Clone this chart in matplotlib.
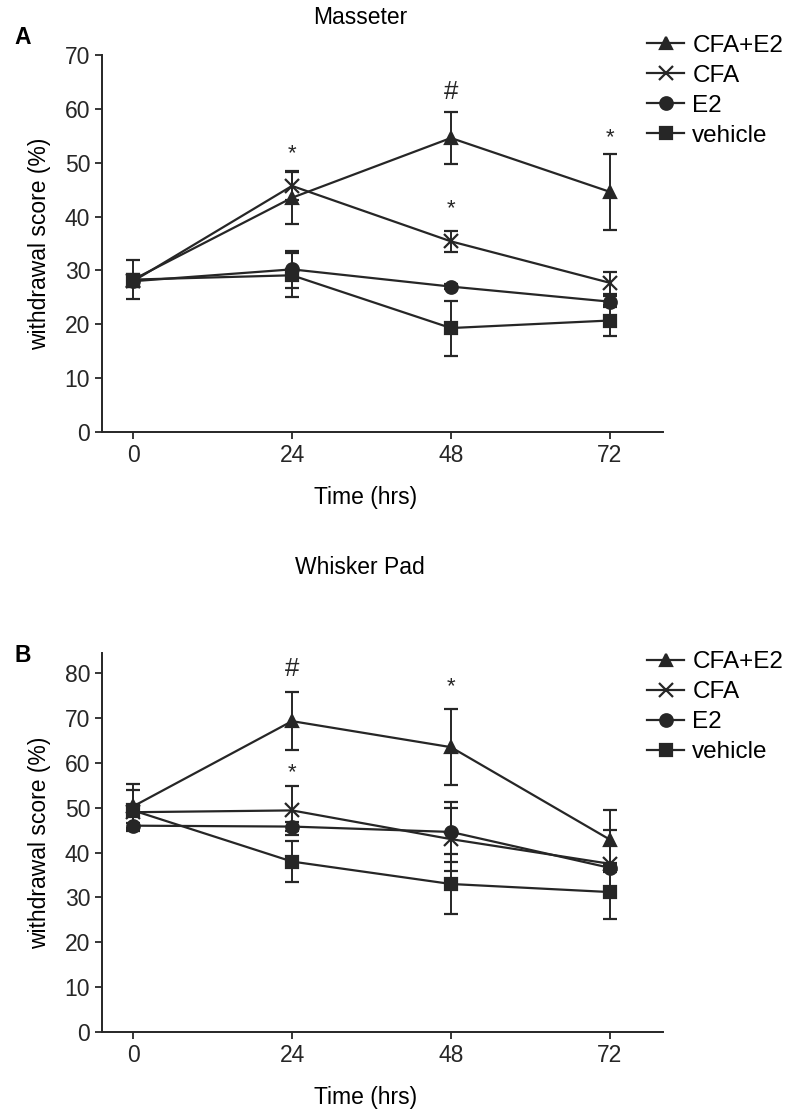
import matplotlib
matplotlib.use("Agg")
import matplotlib.pyplot as plt
from matplotlib.lines import Line2D

plt.rcParams['font.family'] = ['Liberation Sans', 'DejaVu Sans']

hours = [0, 24, 48, 72]
groups = ["CFA+E2", "CFA", "E2", "vehicle"]
markers = ["^", "x", "o", "s"]

# Panel A - Masseter
mass_cfa_e2 = [28.3, 43.5, 54.6, 44.6]
mass_cfa_e2_err = [1.0, 4.9, 4.9, 7.0]
mass_cfa = [28.0, 45.7, 35.4, 27.7]
mass_cfa_err = [1.0, 2.6, 2.0, 2.0]
mass_e2 = [28.0, 30.2, 27.0, 24.2]
mass_e2_err = [1.0, 3.4, 0.5, 1.0]
mass_veh = [28.3, 29.1, 19.3, 20.7]
mass_veh_err = [3.6, 4.1, 5.1, 2.8]

# Panel B - Whisker Pad
wp_cfa_e2 = [50.3, 69.3, 63.5, 42.9]
wp_cfa_e2_err = [5.0, 6.5, 8.5, 6.6]
wp_cfa = [49.0, 49.4, 43.0, 37.5]
wp_cfa_err = [1.0, 5.5, 7.0, 7.5]
wp_e2 = [46.0, 45.8, 44.6, 36.6]
wp_e2_err = [0.5, 1.0, 6.7, 1.0]
wp_veh = [49.4, 38.0, 33.0, 31.2]
wp_veh_err = [4.6, 4.6, 6.6, 6.0]

# significance marks: (x, y, text)
mass_marks = [(24, 51.6, "*"), (48, 63.2, "#"), (48, 41.5, "*"), (72, 54.7, "*")]
wp_marks = [(24, 80.9, "#"), (24, 57.9, "*"), (48, 77.0, "*")]

mass_series = [(mass_cfa_e2, mass_cfa_e2_err), (mass_cfa, mass_cfa_err),
               (mass_e2, mass_e2_err), (mass_veh, mass_veh_err)]
wp_series = [(wp_cfa_e2, wp_cfa_e2_err), (wp_cfa, wp_cfa_err),
             (wp_e2, wp_e2_err), (wp_veh, wp_veh_err)]

col = "#262626"
fs = 16.5

fig = plt.figure(figsize=(8, 11.15), dpi=100)
ax_a = fig.add_axes([0.1275, 0.6126, 0.701, 0.338])
ax_b = fig.add_axes([0.1275, 0.0744, 0.701, 0.340])


def draw_panel(ax, series, marks, ylim, yticks, title, title_y, letter, letter_y, leg_y):
    handles = []
    for (vals, errs), name, m in zip(series, groups, markers):
        ms = 9 if m != "x" else 10
        ax.errorbar(hours, vals, yerr=errs, color=col, marker=m, ms=ms,
                    mew=1.6, lw=1.6, elinewidth=1.4, capsize=5, capthick=1.4)
        handles.append(Line2D([], [], color=col, marker=m, ms=ms, mew=1.6,
                              lw=1.6, label=name))
    for x, y, t in marks:
        ax.text(x, y, t, ha="center", va="center",
                fontsize=fs + 2 if t == "#" else 16, color=col)
    ax.set_xlim(-4.7, 80)
    ax.set_ylim(*ylim)
    ax.set_xticks(hours)
    ax.set_yticks(yticks)
    ax.spines["top"].set_visible(False)
    ax.spines["right"].set_visible(False)
    for s in ["left", "bottom"]:
        ax.spines[s].set_linewidth(1.4)
        ax.spines[s].set_color(col)
    ax.tick_params(direction="out", length=5, width=1.3, labelsize=fs, colors=col)
    ax.set_xlabel("Time (hrs)", fontsize=fs, labelpad=14, x=0.47)
    ax.set_ylabel("withdrawal score (%)", fontsize=fs, labelpad=10)
    fig.text(0.45, title_y, title, fontsize=fs, ha="center", va="center")
    ax.legend(handles=handles, loc="upper left", bbox_to_anchor=(0.955, leg_y),
              frameon=False, fontsize=fs + 1, handlelength=1.5,
              handletextpad=0.35, labelspacing=0.33, borderaxespad=0)
    fig.text(0.018, letter_y, letter, fontsize=fs, fontweight="bold", va="center")


draw_panel(ax_a, mass_series, mass_marks, (0, 70), range(0, 71, 10),
           "Masseter", 1 - 17 / 1115, "A", 1 - 38 / 1115, 1.08)
draw_panel(ax_b, wp_series, wp_marks, (0, 84.5), range(0, 81, 10),
           "Whisker Pad", 1 - 567 / 1115, "B", 1 - 655 / 1115, 1.03)

fig.savefig("out.png", dpi=100)
